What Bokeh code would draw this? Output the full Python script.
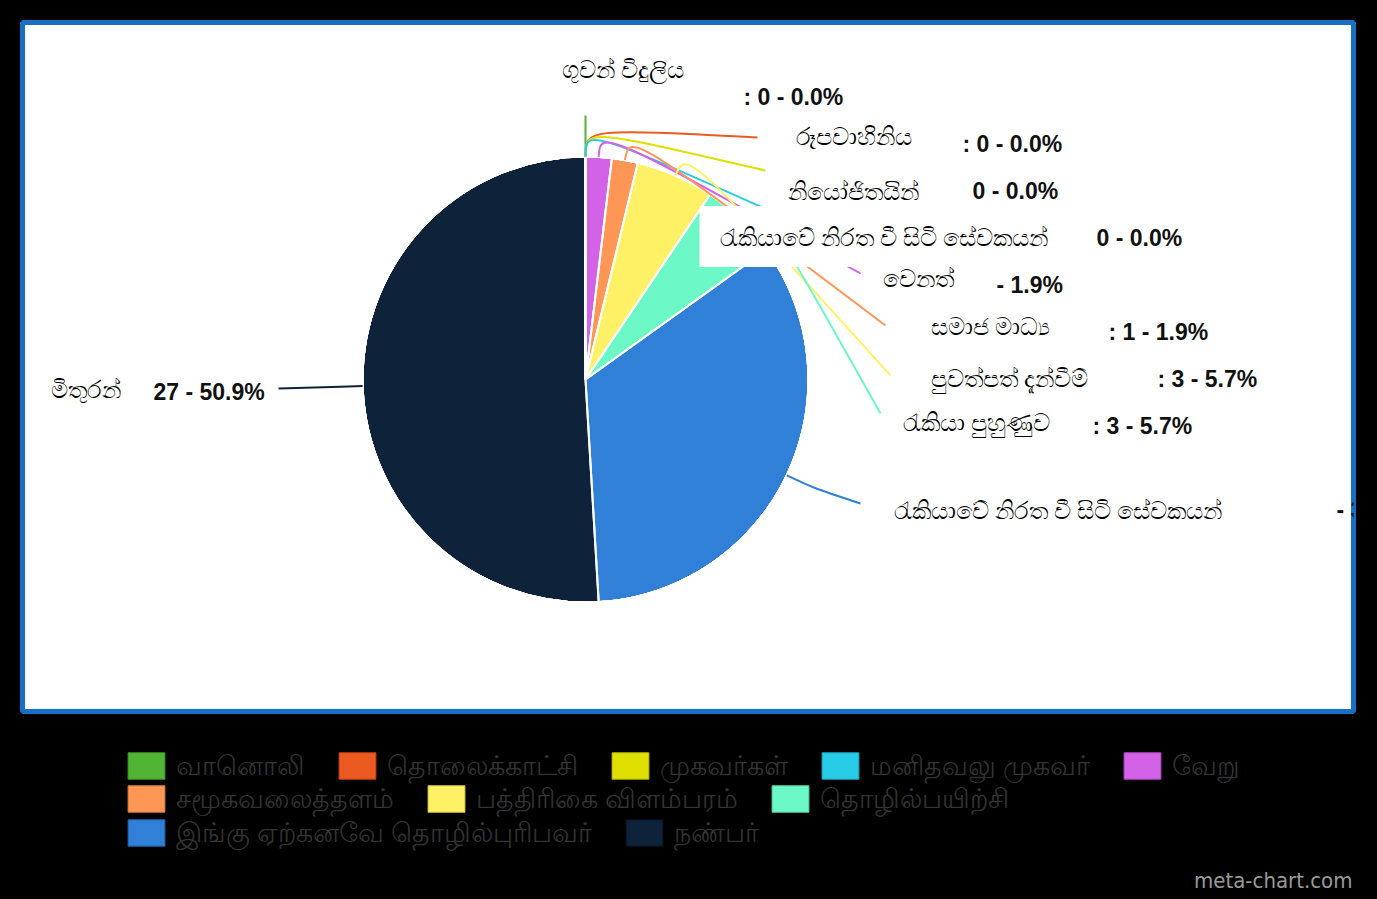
import math
from bokeh.plotting import figure
from bokeh.layouts import column
from bokeh.models import ColumnDataSource, Range1d, Legend, LegendItem, Label
from bokeh.core.properties import value
from bokeh.embed import file_html
from bokeh.resources import INLINE

# ---------------- data ----------------
legend_names = ["வானொலி", "தொலைக்காட்சி", "முகவர்கள்", "மனிதவலு முகவர்", "வேறு",
                "சமூகவலைத்தளம்", "பத்திரிகை விளம்பரம்", "தொழில்பயிற்சி",
                "இங்கு ஏற்கனவே தொழில்புரிபவர்", "நண்பர்"]
label_names = ["ගුවන් විදුලිය", "රූපවාහිනිය", "නියෝජිතයින්", "රැකියාවේ නිරත වී සිටි සේවකයන්",
               "වෙනත්", "සමාජ මාධ්‍ය", "පුවත්පත් දැන්වීම්", "රැකියා පුහුණුව",
               "රැකියාවේ නිරත වී සිටි සේවකයන්", "මිතුරන්"]
counts = [0, 0, 0, 0, 1, 1, 3, 3, 18, 27]
colors = ["#52b435", "#eb5a20", "#dfe000", "#28cce6", "#d262e6",
          "#fe9656", "#fff166", "#6cf8c6", "#3080d8", "#0e2239"]
edge_colors = ["#3f9a26", "#c94510", "#b8b900", "#1aa9bf", "#b548c9",
               "#e07a3a", "#e0cf40", "#4fd8a6", "#1e63b4", "#06121f"]
value_fmt = [": {v} - {p:.1f}%", ": {v} - {p:.1f}%", "{v} - {p:.1f}%", "{v} - {p:.1f}%",
             "- {p:.1f}%", ": {v} - {p:.1f}%", ": {v} - {p:.1f}%", ": {v} - {p:.1f}%",
             "- {p:.1f}%", "{v}  - {p:.1f}%"]

# ---------------- layout (image pixel positions) ----------------
PAGE_W, PAGE_H = 1377, 899
def Y(img_y):
    return PAGE_H - img_y

CX, CY, R = 585, Y(379), 223
ELBOW = 251
name_pos = [(561, 68), (795, 135), (787, 190), (699, 236), (882, 277),
            (930, 325), (930, 377), (902, 421), (893, 509), (50, 388)]
value_pos = [(743, 96), (962, 143), (972, 190), (1096, 237), (996, 284),
             (1108, 331), (1157, 378), (1092, 425), (1336, 509), (153, 391)]
leader_end = [(585, 115), (757, 137), (765, 170), (780, 215), (860, 273),
              (885, 325), (890, 375), (880, 413), (860, 503), (278, 388)]
legend_rows = [[0, 1, 2, 3, 4], [5, 6, 7], [8, 9]]
legend_row_top = [755, 788, 822]

total = sum(counts)
pcts = [100.0 * c / total for c in counts]

starts, ends, mids = [], [], []
cum = 0.0
for c in counts:
    a0 = math.pi / 2 - 2 * math.pi * cum / total
    cum += c
    a1 = math.pi / 2 - 2 * math.pi * cum / total
    starts.append(a0)
    ends.append(a1)
    mids.append((a0 + a1) / 2)

src = ColumnDataSource(dict(
    name=legend_names, count=counts, color=colors, edge=edge_colors,
    start=starts, end=ends,
    x=[CX] * len(counts), y=[CY] * len(counts),
))

# ---------------- top figure: white framed chart area ----------------
FR_L, FR_T, FR_R, FR_B = 22, 22, 1353, 711
TOP_H = 730
p = figure(width=PAGE_W, height=TOP_H, output_backend="svg", toolbar_location=None,
           x_range=Range1d(FR_L, FR_R), y_range=Range1d(Y(FR_B), Y(FR_T)),
           min_border_left=FR_L, min_border_top=FR_T,
           min_border_right=PAGE_W - FR_R, min_border_bottom=TOP_H - FR_B,
           background_fill_color="white", border_fill_color="black")
p.outline_line_color = "#1570c6"
p.outline_line_width = 5
p.axis.visible = False
p.xgrid.visible = False
p.ygrid.visible = False

p.wedge(x="x", y="y", radius=R, start_angle="start", end_angle="end",
        direction="clock", fill_color="color", line_color="edge",
        line_width=1, source=src)
p.wedge(x="x", y="y", radius=R, start_angle="start", end_angle="end",
        direction="clock", fill_color=None, line_color="white", line_width=2, source=src)

# leader lines (curved)
lx0, ly0, lcx, lcy, lx1, ly1 = [], [], [], [], [], []
for i in range(len(counts)):
    m = mids[i]
    lx0.append(CX + R * math.cos(m))
    ly0.append(CY + R * math.sin(m))
    lcx.append(CX + ELBOW * math.cos(m))
    lcy.append(CY + ELBOW * math.sin(m))
    ex, ey = leader_end[i]
    lx1.append(ex)
    ly1.append(Y(ey))
p.bezier(x0=lx0, y0=ly0, x1=lx1, y1=ly1, cx0=lcx, cy0=lcy, cx1=lcx, cy1=lcy,
         line_color=colors, line_width=2)

# labels
for i in range(len(counts)):
    nx, ny = name_pos[i]
    vx, vy = value_pos[i]
    vtxt = value_fmt[i].format(v=counts[i], p=pcts[i])
    if i == 3:
        p.text(x=[nx], y=[Y(ny)], text=[label_names[i]], text_font=value("Noto Sans"),
               text_font_size="24px", text_color="black", text_baseline="middle",
               text_align="left", background_fill_color="white",
               padding=dict(left=20, right=20, top=14, bottom=14))
    else:
        p.text(x=[nx], y=[Y(ny)], text=[label_names[i]], text_font=value("Noto Sans"),
               text_font_size="24px", text_color="black", text_baseline="middle",
               text_align="left")
    p.text(x=[vx], y=[Y(vy)], text=[vtxt], text_font=value("Liberation Sans"),
           text_font_size="23px", text_font_style="bold", text_color="#111111",
           text_baseline="middle", text_align="left")

# ---------------- bottom figure: legend + credit ----------------
BOT_H = PAGE_H - TOP_H
q = figure(width=PAGE_W, height=BOT_H, output_backend="svg", toolbar_location=None,
           x_range=Range1d(FR_L, FR_R), y_range=Range1d(0, BOT_H),
           min_border_left=FR_L, min_border_right=PAGE_W - FR_R,
           min_border_top=0, min_border_bottom=0,
           background_fill_color="black", border_fill_color="black")
q.outline_line_color = None
q.axis.visible = False
q.xgrid.visible = False
q.ygrid.visible = False
# legend proxy: same wedges, lying outside this figure's visible ranges
leg_r = q.wedge(x="x", y="y", radius=R, start_angle="start", end_angle="end",
                direction="clock", fill_color="color", line_color="edge",
                line_width=1, source=src)

GW, GH = 46, 33   # legend glyph boxes (swatch drawn at 80%)
for r, idxs in enumerate(legend_rows):
    items = [LegendItem(label=legend_names[i], renderers=[leg_r], index=i) for i in idxs]
    box_top = legend_row_top[r] - 0.1 * GH
    lg = Legend(items=items, orientation="horizontal",
                location=(128 - FR_L - 0.1 * GW, PAGE_H - (box_top + GH)),
                padding=0, margin=0, spacing=29, label_standoff=7,
                glyph_width=GW, glyph_height=GH, label_height=GH,
                border_line_color=None, background_fill_alpha=0,
                label_text_font="Noto Sans", label_text_font_size="27px",
                label_text_color="#333333", label_text_baseline="middle")
    q.add_layout(lg, "center")

q.add_layout(Label(x=1352, y=Y(880), text="meta-chart.com", text_align="right",
                   text_baseline="middle", text_font="DejaVu Sans Condensed",
                   text_font_size="22px", text_color="#9a9a9a"))

layout = column(p, q, spacing=0)
html = file_html(layout, INLINE, title="chart")
html = html.replace("</head>", "<style>html, body { background-color: #000000; }</style></head>", 1)
open("out.html", "w").write(html)
